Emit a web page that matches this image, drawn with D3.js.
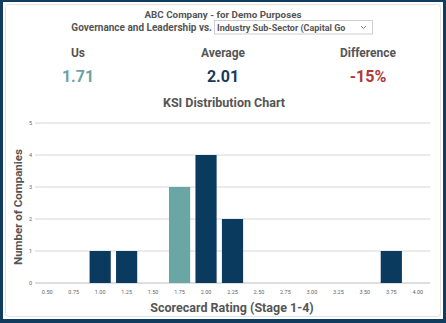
<!DOCTYPE html>
<html><head><meta charset="utf-8">
<script src="https://cdn.jsdelivr.net/npm/d3@7"></script>
<style>
html,body{margin:0;padding:0;background:#0f3c5f;}
svg{display:block;font-family:Roboto, "Noto Sans", sans-serif;}
</style></head>
<body>
<svg id="c" width="446" height="323"></svg>
<script>
const categories = ["0.50","0.75","1.00","1.25","1.50","1.75","2.00","2.25","2.50","2.75","3.00","3.25","3.50","3.75","4.00"];
const counts =     [0,0,1,1,0,3,4,2,0,0,0,0,0,1,0];
const highlight = "1.75";
const yTicks = [0,1,2,3,4,5];
const usValue = "1.71", avgValue = "2.01", diffValue = "-15%";

const svg = d3.select("#c");
svg.append("rect").attr("x",0).attr("y",0).attr("width",446).attr("height",323).attr("fill","#0f3c5f");
svg.append("rect").attr("x",3).attr("y",2).attr("width",440).attr("height",317).attr("fill","#ffffff");
svg.append("rect").attr("x",5.5).attr("y",4.5).attr("width",435).attr("height",312).attr("rx",3)
  .attr("fill","none").attr("stroke","#e2e2e2").attr("stroke-width",1);

svg.append("text").attr("x",223).attr("y",18).attr("text-anchor","middle")
  .attr("font-size",9.8).attr("font-weight","bold").attr("fill","#555").text("ABC Company - for Demo Purposes");
svg.append("text").attr("x",212).attr("y",31).attr("text-anchor","end")
  .attr("font-size",10).attr("font-weight","bold").attr("fill","#555").text("Governance and Leadership vs.");
svg.append("rect").attr("x",214.5).attr("y",20.5).attr("width",158).attr("height",13.5)
  .attr("fill","#fff").attr("stroke","#cfcfcf");
svg.append("text").attr("x",217).attr("y",31)
  .attr("font-size",9).attr("font-weight","bold").attr("fill","#555").text("Industry Sub-Sector (Capital Go");
svg.append("path").attr("d","M361,26 l2.5,2.5 l2.5,-2.5").attr("fill","none").attr("stroke","#777").attr("stroke-width",0.9);

const kpis = [["Us",usValue,"#6aa3a3",78],["Average",avgValue,"#1b3a5a",223],["Difference",diffValue,"#b03838",368]];
kpis.forEach(k=>{
  svg.append("text").attr("x",k[3]).attr("y",57).attr("text-anchor","middle")
    .attr("font-size",12).attr("font-weight","bold").attr("fill","#555").text(k[0]);
  svg.append("text").attr("x",k[3]).attr("y",82).attr("text-anchor","middle")
    .attr("font-size",16).attr("font-weight","bold").attr("fill",k[2]).text(k[1]);
});
svg.append("text").attr("x",224).attr("y",107).attr("text-anchor","middle")
  .attr("font-size",12.5).attr("font-weight","bold").attr("fill","#555").text("KSI Distribution Chart");

const x = d3.scaleBand().domain(categories).range([34,431]).paddingInner(0.2).paddingOuter(0.1);
const y = d3.scaleLinear().domain([0,5]).range([283,123]);

const grid = svg.append("g");
yTicks.forEach(t=>{
  grid.append("line").attr("x1",35).attr("x2",430).attr("y1",y(t)).attr("y2",y(t))
    .attr("stroke", t===0 ? "#bdbdbd" : "#d6d6d6").attr("stroke-width",1);
});
const yAxis = svg.append("g").attr("transform","translate(35,0)")
  .call(d3.axisLeft(y).tickValues(yTicks).tickFormat(d3.format("d")).tickSize(0).tickPadding(3));
yAxis.select(".domain").remove();
yAxis.selectAll("text").attr("font-size",5.5).attr("fill","#666").attr("font-family","Roboto, sans-serif");

svg.append("g").selectAll("rect").data(categories).join("rect")
  .attr("x",d=>x(d)).attr("width",x.bandwidth())
  .attr("y",(d,i)=>y(counts[i])).attr("height",(d,i)=>y(0)-y(counts[i]))
  .attr("fill",d=> d===highlight ? "#6aa6a4" : "#0b3a5f");

const xAxis = svg.append("g").attr("transform","translate(0,283)")
  .call(d3.axisBottom(x).tickSize(0).tickPadding(7));
xAxis.select(".domain").remove();
xAxis.selectAll("text").attr("font-size",5.5).attr("fill","#666").attr("font-family","Roboto, sans-serif");

svg.append("text").attr("x",232).attr("y",312).attr("text-anchor","middle")
  .attr("font-size",12.5).attr("font-weight","bold").attr("fill","#555").text("Scorecard Rating (Stage 1-4)");
svg.append("text").attr("transform","translate(22,207) rotate(-90)").attr("text-anchor","middle")
  .attr("font-size",11.5).attr("font-weight","bold").attr("fill","#555").text("Number of Companies");
</script>
</body></html>
